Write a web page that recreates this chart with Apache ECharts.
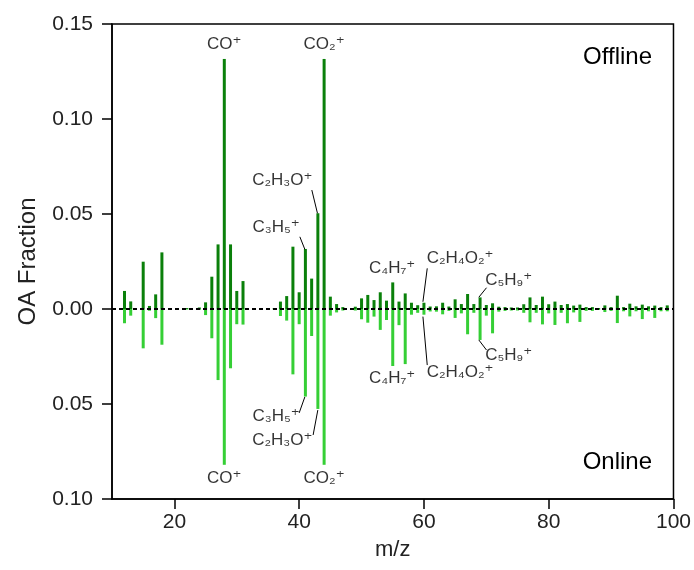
<!DOCTYPE html>
<html>
<head>
<meta charset="utf-8">
<script src="https://cdn.jsdelivr.net/npm/echarts@6/dist/echarts.min.js"></script>
<style>
  html, body { margin: 0; padding: 0; background: #fff; }
  #chart { width: 694px; height: 570px; }
</style>
</head>
<body>
<div id="chart"></div>
<script>
// m/z values and OA fractions (online stored as positive, drawn downward)
const mz = [12, 13, 15, 16, 17, 18, 22, 24, 25, 26, 27, 28, 29, 30, 31,
  36, 37, 38, 39, 40, 41, 42, 43, 44, 45, 46, 47, 49,
  50, 51, 52, 53, 54, 55, 56, 57, 58, 59, 60, 61, 62, 63, 64, 65, 66, 67, 68, 69,
  70, 71, 72, 73, 74, 75, 76, 77, 78, 79, 80, 81, 82, 83, 84, 85, 86, 87, 88, 89,
  90, 91, 92, 93, 94, 95, 96, 97, 98, 99]
const offline = [0.0095, 0.0040, 0.0249, 0.0016, 0.0077, 0.0298, 0.0005, 0.0008, 0.0035, 0.0170, 0.0340, 0.1316, 0.0340, 0.0095, 0.0147,
  0.0005, 0.0039, 0.0068, 0.0328, 0.0088, 0.0316, 0.0160, 0.0504, 0.1316, 0.0065, 0.0026, 0.0010, 0.0012,
  0.0056, 0.0074, 0.0047, 0.0088, 0.0044, 0.0140, 0.0039, 0.0082, 0.0033, 0.0020, 0.0033, 0.0013, 0.0014, 0.0033, 0.0013, 0.0051, 0.0026, 0.0079, 0.0026, 0.0061,
  0.0021, 0.0030, 0.0012, 0.0010, 0.0008, 0.0008, 0.0025, 0.0061, 0.0021, 0.0065, 0.0025, 0.0039, 0.0021, 0.0026, 0.0018, 0.0023, 0.0010, 0.0010, 0.0005, 0.0019,
  0.0010, 0.0070, 0.0010, 0.0028, 0.0014, 0.0023, 0.0014, 0.0018, 0.0010, 0.0019]
const online = [0.0075, 0.0035, 0.0207, 0.0009, 0.0048, 0.0188, 0.0003, 0.0005, 0.0032, 0.0154, 0.0374, 0.0820, 0.0312, 0.0080, 0.0082,
  0.0003, 0.0037, 0.0061, 0.0344, 0.0080, 0.0461, 0.0142, 0.0526, 0.0820, 0.0035, 0.0018, 0.0008, 0.0008,
  0.0054, 0.0072, 0.0040, 0.0110, 0.0058, 0.0300, 0.0085, 0.0290, 0.0030, 0.0020, 0.0030, 0.0013, 0.0014, 0.0028, 0.0010, 0.0047, 0.0023, 0.0133, 0.0020, 0.0163,
  0.0035, 0.0128, 0.0014, 0.0010, 0.0008, 0.0008, 0.0020, 0.0070, 0.0020, 0.0081, 0.0023, 0.0084, 0.0020, 0.0075, 0.0018, 0.0068, 0.0010, 0.0010, 0.0005, 0.0016,
  0.0010, 0.0074, 0.0012, 0.0039, 0.0012, 0.0053, 0.0012, 0.0047, 0.0012, 0.0012]

const xTicks = [20, 40, 60, 80, 100]

// ion labels, placed in data coordinates
const ionLabels = [
  { name: 'CO⁺', at: [28, 0.1395] },
  { name: 'CO₂⁺', at: [44, 0.1395] },
  { name: 'C₂H₃O⁺', at: [37.3, 0.0679] },
  { name: 'C₃H₅⁺', at: [36.3, 0.0432] },
  { name: 'C₄H₇⁺', at: [54.9, 0.0216] },
  { name: 'C₂H₄O₂⁺', at: [65.8, 0.0268] },
  { name: 'C₅H₉⁺', at: [73.6, 0.0153] },
  { name: 'CO⁺', at: [28, -0.0889] },
  { name: 'CO₂⁺', at: [44, -0.0889] },
  { name: 'C₃H₅⁺', at: [36.3, -0.0567] },
  { name: 'C₂H₃O⁺', at: [37.3, -0.0693] },
  { name: 'C₄H₇⁺', at: [54.9, -0.0363] },
  { name: 'C₂H₄O₂⁺', at: [65.8, -0.0332] },
  { name: 'C₅H₉⁺', at: [73.6, -0.0242] }
]
const leaders = [
  [[42.03, 0.0626], [42.93, 0.0504]],
  [[40.11, 0.0380], [40.91, 0.0314]],
  [[60.53, 0.0214], [59.84, 0.0038]],
  [[70.03, 0.0112], [68.80, 0.0062]],
  [[40.00, -0.0547], [40.91, -0.0463]],
  [[42.24, -0.0663], [42.99, -0.0532]],
  [[59.84, -0.0040], [60.53, -0.0295]],
  [[68.80, -0.0163], [70.03, -0.0216]]
]

const FONT = '"Liberation Sans", Arial, "DejaVu Sans", sans-serif'
const DARK = '#0a800a'
const LIGHT = '#35cf35'

const chart = echarts.init(document.getElementById('chart'), null, { renderer: 'canvas' })

chart.setOption({
  animation: false,
  backgroundColor: '#fff',
  grid: {
    left: 112, right: 19, top: 24, bottom: 71,
    show: true, borderColor: '#000', borderWidth: 1.5, backgroundColor: 'transparent'
  },
  xAxis: {
    type: 'value',
    min: 10,
    max: 100,
    name: 'm/z',
    nameLocation: 'middle',
    nameGap: 40,
    nameTextStyle: { fontFamily: FONT, fontSize: 22, color: '#222' },
    axisLine: { onZero: false, lineStyle: { color: '#000', width: 1.5 } },
    axisTick: { customValues: xTicks, length: 10, lineStyle: { color: '#000', width: 1.5 } },
    axisLabel: { customValues: xTicks, fontFamily: FONT, fontSize: 21, color: '#222', margin: 13 },
    splitLine: { show: false }
  },
  yAxis: {
    type: 'value',
    min: -0.10,
    max: 0.15,
    interval: 0.05,
    name: 'OA Fraction',
    nameLocation: 'middle',
    nameGap: 72,
    nameTextStyle: { fontFamily: FONT, fontSize: 24, color: '#222' },
    axisLine: { lineStyle: { color: '#000', width: 1.5 } },
    axisTick: { length: 10, lineStyle: { color: '#000', width: 1.5 } },
    axisLabel: {
      fontFamily: FONT, fontSize: 21, color: '#222', margin: 19,
      formatter: v => Math.abs(v).toFixed(2)
    },
    splitLine: { show: false }
  },
  graphic: [
    { type: 'text', right: 42, top: 45, style: { text: 'Offline', font: '24px ' + FONT, fill: '#000' } },
    { type: 'text', right: 42, top: 450, style: { text: 'Online', font: '24px ' + FONT, fill: '#000' } }
  ],
  series: [
    {
      name: 'Offline',
      type: 'bar',
      barWidth: 3,
      barGap: '-100%',
      itemStyle: { color: DARK },
      data: mz.map((m, i) => [m, offline[i]]),
      markLine: {
        silent: true,
        symbol: ['none', 'none'],
        label: { show: false },
        lineStyle: { color: '#000', type: [4, 3], width: 2 },
        data: [{ yAxis: 0 }],
        z: 10
      }
    },
    {
      name: 'Online',
      type: 'bar',
      barWidth: 3,
      barGap: '-100%',
      itemStyle: { color: LIGHT },
      data: mz.map((m, i) => [m, -online[i]])
    },
    {
      name: 'labels',
      type: 'scatter',
      symbolSize: 0,
      silent: true,
      z: 20,
      data: ionLabels.map(l => ({ name: l.name, value: l.at })),
      label: {
        show: true,
        position: 'inside',
        formatter: p => p.name,
        fontFamily: FONT,
        fontSize: 17,
        color: '#000'
      },
      markLine: {
        silent: true,
        symbol: ['none', 'none'],
        label: { show: false },
        lineStyle: { color: '#000', type: 'solid', width: 1 },
        data: leaders.map(([a, b]) => [{ coord: a }, { coord: b }])
      }
    }
  ]
})
</script>
</body>
</html>
